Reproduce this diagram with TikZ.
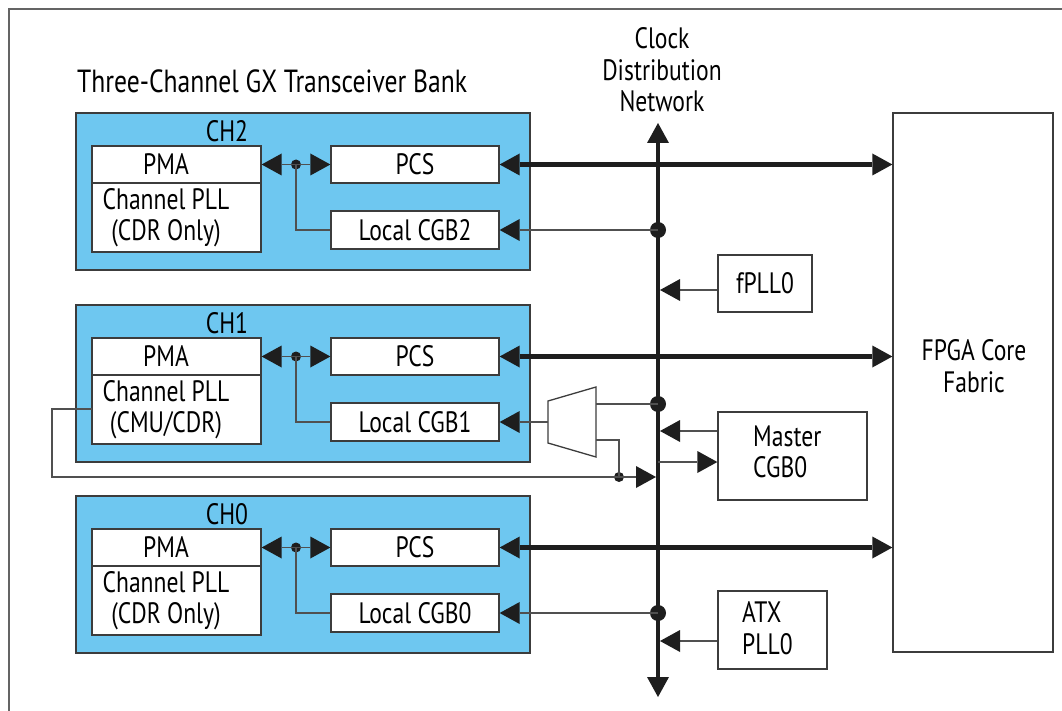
\documentclass[tikz,border=0pt]{standalone}
\usepackage{fontspec}
\setmainfont[FakeStretch=0.8]{PT Sans}
\usetikzlibrary{arrows.meta}
\definecolor{chblue}{RGB}{110,199,240}
\definecolor{edge}{RGB}{60,60,60}
\definecolor{wire}{RGB}{80,80,80}
\definecolor{ink}{RGB}{30,30,30}
\definecolor{framec}{RGB}{100,100,100}

\begin{document}
\begin{tikzpicture}[x=1pt,y=-1pt,
  font=\fontsize{29.5}{31.5}\selectfont,
  frame/.style={draw=framec, line width=1.3pt},
  chan/.style={draw=edge, line width=1.3pt, fill=chblue, minimum width=454pt, minimum height=157pt, inner sep=0pt},
  box/.style={draw=edge, line width=1.3pt, fill=white, inner sep=0pt},
  lbl/.style={inner sep=0pt},
  wirestyle/.style={draw=wire, line width=1.6pt},
  bus/.style={draw=ink, line width=4.5pt},
  tipend/.style={-{Triangle[length=20pt,width=22pt,color=ink,line width=0pt]}},
  tipboth/.style={{Triangle[length=20pt,width=22pt,color=ink,line width=0pt]}-{Triangle[length=20pt,width=22pt,color=ink,line width=0pt]}},
  sdot/.style={circle, fill=ink, inner sep=0pt, minimum size=10pt},
  bdot/.style={circle, fill=ink, inner sep=0pt, minimum size=16pt},
  pmabox/.style={box, minimum width=169pt, minimum height=106pt},
  blk/.style={box, minimum width=168pt, minimum height=37pt},
  cgb/.style={box, minimum width=168pt, minimum height=38pt}]

\useasboundingbox (0,0) rectangle (1062,711);
\draw[frame] (9,9) rectangle (1100,760);

% title and bus label
\node[lbl, anchor=base west, font=\fontsize{32}{34}\selectfont] (title) at (77,93) {Three-Channel GX Transceiver Bank};
\node[lbl, align=center] (cdnl) at (662,70) {Clock\\Distribution\\Network};

% FPGA fabric
\node[box, minimum width=160pt, minimum height=539pt] (fpga) at (973,382.5) {};
\node[lbl, align=center] (fpgat) at (974,366) {FPGA Core\\Fabric};

% clock distribution network
\coordinate (cdnTop) at (658,123);
\coordinate (cdnBot) at (658,697);
\draw[bus, tipboth] (cdnBot) -- (cdnTop);

% ---------- channel 2 ----------
\node[chan] (ch2) at (303,191.5) {};
\node[lbl] (ch2l) at (227,131) {CH2};
\node[pmabox] (pma2) at (176.5,199) {};
\coordinate (div2) at (0,183);
\draw[draw=edge, line width=1.3pt] (pma2.west |- div2) -- (pma2.east |- div2);
\node[lbl] (pma2t) at (166,164) {PMA};
\node[lbl, align=center] (pll2t) at (166,217.5) {Channel PLL\\(CDR Only)};
\node[blk] (pcs2) at (415,164.5) {PCS};
\node[cgb] (cgb2) at (415,230) {Local CGB2};
\node[sdot] (j2) at (296,164.5) {};
\draw[wirestyle, tipboth] (pma2.east |- j2) -- (pcs2.west);
\draw[wirestyle] (j2.center) |- (cgb2.west);
\draw[bus, tipboth] (pcs2.east) -- (fpga.west |- pcs2.east);

% ---------- channel 1 ----------
\node[chan] (ch1) at (303,383.5) {};
\node[lbl] (ch1l) at (227,323) {CH1};
\node[pmabox] (pma1) at (176.5,391) {};
\coordinate (div1) at (0,375);
\draw[draw=edge, line width=1.3pt] (pma1.west |- div1) -- (pma1.east |- div1);
\node[lbl] (pma1t) at (166,356) {PMA};
\node[lbl, align=center] (pll1t) at (166,409.5) {Channel PLL\\(CMU/CDR)};
\node[blk] (pcs1) at (415,356.5) {PCS};
\node[cgb] (cgb1) at (415,422) {Local CGB1};
\node[sdot] (j1) at (296,356.5) {};
\draw[wirestyle, tipboth] (pma1.east |- j1) -- (pcs1.west);
\draw[wirestyle] (j1.center) |- (cgb1.west);
\draw[bus, tipboth] (pcs1.east) -- (fpga.west |- pcs1.east);

% ---------- channel 0 ----------
\node[chan] (ch0) at (303,574.5) {};
\node[lbl] (ch0l) at (227,514) {CH0};
\node[pmabox] (pma0) at (176.5,582) {};
\coordinate (div0) at (0,566);
\draw[draw=edge, line width=1.3pt] (pma0.west |- div0) -- (pma0.east |- div0);
\node[lbl] (pma0t) at (166,547) {PMA};
\node[lbl, align=center] (pll0t) at (166,600.5) {Channel PLL\\(CDR Only)};
\node[blk] (pcs0) at (415,547.5) {PCS};
\node[cgb] (cgb0) at (415,613) {Local CGB0};
\node[sdot] (j0) at (296,547.5) {};
\draw[wirestyle, tipboth] (pma0.east |- j0) -- (pcs0.west);
\draw[wirestyle] (j0.center) |- (cgb0.west);
\draw[bus, tipboth] (pcs0.east) -- (fpga.west |- pcs0.east);

% ---------- clock sources ----------
\node[box, minimum width=94pt, minimum height=57pt] (fpll) at (765,283.5) {fPLL0};
\node[box, minimum width=149pt, minimum height=88pt] (mcgb) at (792.5,456) {};
\node[lbl, anchor=west, align=left] (mcgbt) at (753,452) {Master\\CGB0};
\node[box, minimum width=109pt, minimum height=78pt] (atx) at (772.5,630) {};
\node[lbl, anchor=west, align=left] (atxt) at (742,628) {ATX\\PLL0};

\coordinate (fpllIn) at (660,290);
\draw[wirestyle, tipend] (fpll.west |- fpllIn) -- (fpllIn);
\coordinate (mcgbIn) at (660,431);
\draw[wirestyle, tipend] (mcgb.west |- mcgbIn) -- (mcgbIn);
\coordinate (mcgbOut) at (658,462);
\draw[wirestyle, tipend] (mcgbOut) -- (mcgb.west |- mcgbOut);
\coordinate (atxIn) at (660,641);
\draw[wirestyle, tipend] (atx.west |- atxIn) -- (atxIn);

% taps feeding the local clock generators
\node[bdot] (c2) at (658,230) {};
\draw[wirestyle, tipend] (c2.center) -- (cgb2.east);
\node[bdot] (c0) at (658,613) {};
\draw[wirestyle, tipend] (c0.center) -- (cgb0.east);

% channel 1 clock multiplexer
\draw[box] (548,401) -- (596,387) -- (596,457) -- (548,443) -- cycle;
\coordinate (muxOut) at (548,422);
\coordinate (muxA) at (596,404);
\coordinate (muxB) at (596,440);
\node[bdot] (c1) at (658,404) {};
\draw[wirestyle] (c1.center) -- (muxA);
\draw[wirestyle, tipend] (muxOut) -- (cgb1.east);
\node[sdot] (jm) at (619,477) {};
\draw[wirestyle] (muxB) -| (jm.center);

% CMU output of channel 1 PLL onto the network
\coordinate (cmuOut) at (92,409);
\coordinate (cmuBend) at (52,409);
\coordinate (cmuIn) at (656,477);
\draw[wirestyle, tipend] (cmuOut) -- (cmuBend) |- (cmuIn);
\end{tikzpicture}
\end{document}
